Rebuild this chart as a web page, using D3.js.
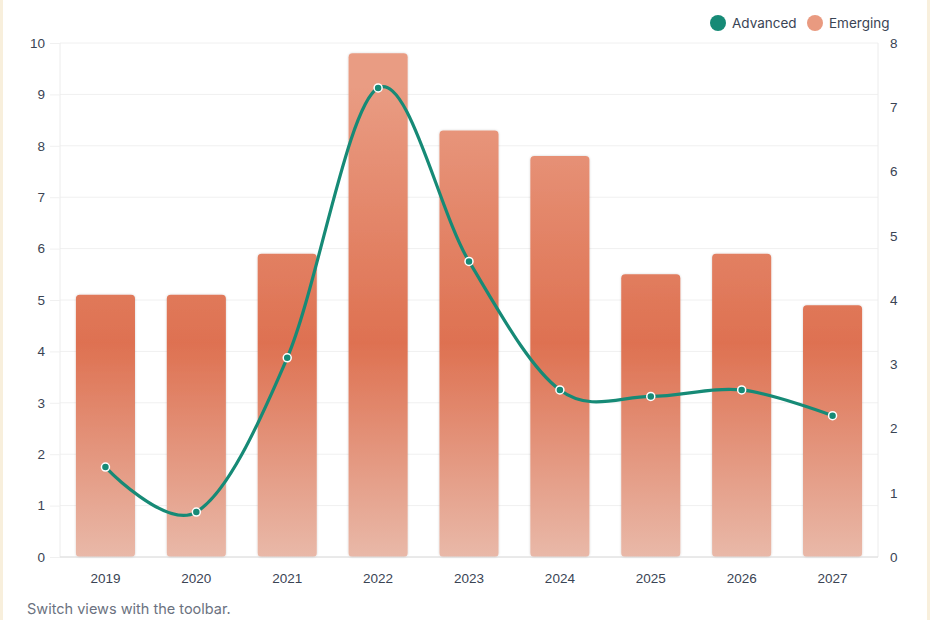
<!DOCTYPE html>
<html>
<head>
<meta charset="utf-8">
<script src="https://cdn.jsdelivr.net/npm/d3@7"></script>
<style>
  html, body { margin: 0; padding: 0; background: #fff; }
  svg { display: block; font-family: Inter, "Liberation Sans", Arial, sans-serif; }
</style>
</head>
<body>
<svg width="930" height="620"></svg>
<script>
const years = ['2019', '2020', '2021', '2022', '2023', '2024', '2025', '2026', '2027'];
const emerging = [5.1, 5.1, 5.9, 9.8, 8.3, 7.8, 5.5, 5.9, 4.9];
const advanced = [1.4, 0.7, 3.1, 7.3, 4.6, 2.6, 2.5, 2.6, 2.2];
const leftTicks = [0, 1, 2, 3, 4, 5, 6, 7, 8, 9, 10];
const rightTicks = [0, 1, 2, 3, 4, 5, 6, 7, 8];

const rows = years.map((y, i) => ({year: y, emerging: emerging[i], advanced: advanced[i]}));

const margin = {top: 43, right: 52, bottom: 63, left: 60};
const W = 930, H = 620;
const width = W - margin.left - margin.right;
const height = H - margin.top - margin.bottom;

const svg = d3.select('svg');

// thin cream edges of the card
svg.append('rect').attr('x', 0).attr('y', 0).attr('width', 3).attr('height', H).attr('fill', '#f8efdc');
svg.append('rect').attr('x', 927).attr('y', 0).attr('width', 3).attr('height', H).attr('fill', '#f8efdc');

const defs = svg.append('defs');
const grad = defs.append('linearGradient')
    .attr('id', 'barGrad')
    .attr('gradientUnits', 'userSpaceOnUse')
    .attr('x1', 0).attr('x2', 0)
    .attr('y1', margin.top).attr('y2', margin.top + height);
grad.append('stop').attr('offset', '0%').attr('stop-color', '#e99c83');
grad.append('stop').attr('offset', '50%').attr('stop-color', '#de7151');
grad.append('stop').attr('offset', '100%').attr('stop-color', '#ebc7ba');

const shadow = defs.append('filter').attr('id', 'barShadow')
    .attr('x', '-10%').attr('y', '-10%').attr('width', '120%').attr('height', '120%');
shadow.append('feDropShadow').attr('dx', 0).attr('dy', 0).attr('stdDeviation', 1.2)
    .attr('flood-color', '#000').attr('flood-opacity', 0.18);

const chart = svg.append('g')
    .attr('transform', `translate(${margin.left}, ${margin.top})`);

const xScale = d3.scaleBand()
    .range([0, width])
    .domain(years)
    .paddingInner(0.35)
    .paddingOuter(0.175);

const yLeft = d3.scaleLinear().range([height, 0]).domain([0, 10]);
const yRight = d3.scaleLinear().range([height, 0]).domain([0, 8]);

// grid
chart.append('g')
    .selectAll('line')
    .data(leftTicks)
    .join('line')
    .attr('x1', 0).attr('x2', width)
    .attr('y1', d => yLeft(d)).attr('y2', d => yLeft(d))
    .attr('stroke', '#f0f0f0')
    .attr('stroke-width', 1);

// frame sides
chart.append('line').attr('x1', 0).attr('x2', 0).attr('y1', 0).attr('y2', height)
    .attr('stroke', '#ececec');
chart.append('line').attr('x1', width).attr('x2', width).attr('y1', 0).attr('y2', height)
    .attr('stroke', '#ececec');

// bars
chart.append('g')
    .selectAll('rect')
    .data(rows)
    .join('rect')
    .attr('x', d => xScale(d.year))
    .attr('y', d => yLeft(d.emerging))
    .attr('width', xScale.bandwidth())
    .attr('height', d => height - yLeft(d.emerging))
    .attr('rx', 4)
    .attr('fill', 'url(#barGrad)')
    .attr('filter', 'url(#barShadow)');

// bottom axis line
chart.append('line').attr('x1', 0).attr('x2', width).attr('y1', height).attr('y2', height)
    .attr('stroke', '#dcdcdc');

// axes
const tickColor = '#3a4454';
let leftAxis = chart.append('g')
    .call(d3.axisLeft(yLeft).tickValues(leftTicks).tickSize(10).tickPadding(5));
leftAxis.select('.domain').remove();
leftAxis.selectAll('.tick line').attr('stroke', '#f0f0f0');
leftAxis.selectAll('.tick text').attr('font-size', 13.5).attr('fill', tickColor);

let rightAxis = chart.append('g')
    .attr('transform', `translate(${width},0)`)
    .call(d3.axisRight(yRight).tickValues(rightTicks).tickSize(0).tickPadding(12));
rightAxis.select('.domain').remove();
rightAxis.selectAll('.tick text').attr('font-size', 13.5).attr('fill', tickColor);

let xAxis = chart.append('g')
    .attr('transform', `translate(0,${height})`)
    .call(d3.axisBottom(xScale).tickSize(0).tickPadding(16));
xAxis.select('.domain').remove();
xAxis.selectAll('.tick text').attr('font-size', 13.5).attr('fill', tickColor);

// line
const line = d3.line()
    .x(d => xScale(d.year) + xScale.bandwidth() / 2)
    .y(d => yRight(d.advanced))
    .curve(d3.curveCatmullRom.alpha(0));

chart.append('path')
    .datum(rows)
    .attr('d', line)
    .attr('fill', 'none')
    .attr('stroke', '#168a76')
    .attr('stroke-width', 3.2);

chart.append('g')
    .selectAll('circle')
    .data(rows)
    .join('circle')
    .attr('cx', d => xScale(d.year) + xScale.bandwidth() / 2)
    .attr('cy', d => yRight(d.advanced))
    .attr('r', 4)
    .attr('fill', '#168a76')
    .attr('stroke', '#fff')
    .attr('stroke-width', 1.5);

// legend
const legend = [
    {name: 'Advanced', color: '#168a76', x: 718},
    {name: 'Emerging', color: '#e99a80', x: 815}
];
const lg = svg.append('g').selectAll('g').data(legend).join('g')
    .attr('transform', d => `translate(${d.x},23)`);
lg.append('circle').attr('r', 8).attr('fill', d => d.color);
lg.append('text').attr('x', 14).attr('dy', '0.35em')
    .attr('font-size', 13.5).attr('fill', '#3a4454')
    .text(d => d.name);

// caption
svg.append('text')
    .attr('x', 27).attr('y', 614)
    .attr('font-size', 14.5).attr('fill', '#6b7280')
    .text('Switch views with the toolbar.');
</script>
</body>
</html>
